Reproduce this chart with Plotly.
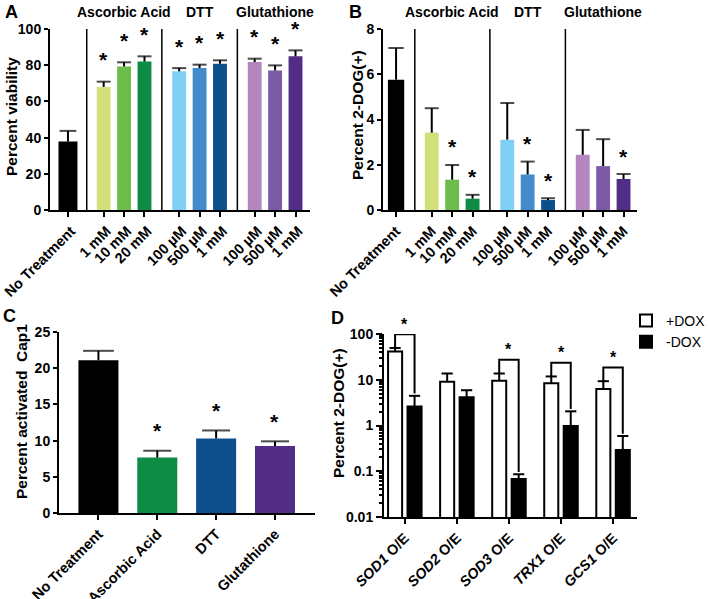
import math
import plotly.graph_objects as go

W, H = 709, 599
FONT = "Liberation Sans, Arial, Helvetica, sans-serif"

# ---------------- data ----------------
groups = ["Ascorbic Acid", "DTT", "Glutathione"]
ab_labels = ["No Treatment", "1 mM", "10 mM", "20 mM", "100 µM", "500 µM", "1 mM",
             "100 µM", "500 µM", "1 mM"]
a_values = [37.8, 68.0, 79.3, 82.0, 76.6, 78.4, 80.8, 81.7, 77.1, 84.9]
a_errors = [5.9, 2.9, 2.3, 2.9, 1.8, 1.9, 1.9, 1.9, 2.8, 3.3]
a_sig = [False, True, True, True, True, True, True, True, True, True]

b_values = [5.76, 3.42, 1.34, 0.50, 3.11, 1.57, 0.44, 2.44, 1.94, 1.37]
b_errors = [1.40, 1.08, 0.65, 0.17, 1.62, 0.57, 0.08, 1.10, 1.19, 0.22]
b_sig = [False, False, True, True, False, True, True, False, False, True]

ab_colors = ["#000000", "#d3df7b", "#6cbd4b", "#0e8b45", "#7fd0f4", "#438bcb",
             "#0d4e8c", "#b587c1", "#7b5ba7", "#512d86"]

c_labels = ["No Treatment", "Ascorbic Acid", "DTT", "Glutathione"]
c_values = [21.1, 7.65, 10.3, 9.25]
c_errors = [1.3, 0.95, 1.1, 0.65]
c_sig = [False, True, True, True]
c_colors = ["#000000", "#0e8b45", "#0d4e8c", "#512d86"]

d_genes = ["SOD1", "SOD2", "SOD3", "TRX1", "GCS1"]
d_plus = [41.7, 9.0, 9.5, 8.4, 6.3]
d_plus_err = [7.8, 4.7, 4.2, 3.4, 3.0]
d_minus = [2.6, 4.15, 0.068, 0.975, 0.29]
d_minus_err = [1.85, 1.75, 0.018, 1.065, 0.30]
d_sig = [True, False, True, True, True]
d_series = ["+DOX", "-DOX"]

# ---------------- helpers ----------------
def fx(px):
    return px / W

def fy(py):
    return 1 - py / H

fig = go.Figure()

def add_err(x, y, e, capw, xa, ya, thick=2):
    lx, ly = [], []
    for xi, yi, ei in zip(x, y, e):
        lx += [xi, xi, None]
        ly += [yi, yi + ei, None]
    fig.add_trace(go.Scatter(x=lx, y=ly, mode="lines", xaxis=xa, yaxis=ya,
                             line=dict(color="black", width=thick),
                             showlegend=False, hoverinfo="skip", cliponaxis=False))
    fig.add_trace(go.Scatter(x=list(x), y=[yi + ei for yi, ei in zip(y, e)], mode="markers",
                             xaxis=xa, yaxis=ya,
                             marker=dict(symbol="line-ew", size=capw, color="black",
                                         line=dict(width=thick, color="black")),
                             showlegend=False, hoverinfo="skip", cliponaxis=False))

# positions for panels A/B: No Treatment, then three groups of three
ab_pos = [0.0] + [1.75 + g * 3.7 + k for g in range(3) for k in range(3)]
ab_group_centers = [1.75 + g * 3.7 + 1 for g in range(3)]
separators = [0.92, 4.6, 8.3]

# ---------------- Panel A ----------------
a_w = [0.93] + [0.68] * 9
fig.add_trace(go.Bar(x=ab_pos, y=a_values, width=a_w, marker=dict(color=ab_colors, line=dict(width=0)),
                     xaxis="x", yaxis="y", showlegend=False))
add_err(ab_pos, a_values, a_errors, [12] + [10] * 9, "x", "y")

# ---------------- Panel B ----------------
b_w = [0.8] + [0.68] * 9
fig.add_trace(go.Bar(x=ab_pos, y=b_values, width=b_w, marker=dict(color=ab_colors, line=dict(width=0)),
                     xaxis="x2", yaxis="y2", showlegend=False))
add_err(ab_pos, b_values, b_errors, [11] + [10] * 9, "x2", "y2")

# ---------------- Panel C ----------------
fig.add_trace(go.Bar(x=c_labels, y=c_values, width=0.68, marker=dict(color=c_colors, line=dict(width=0)),
                     xaxis="x3", yaxis="y3", showlegend=False))
add_err(c_labels, c_values, c_errors, [22, 20, 20, 20], "x3", "y3")

# ---------------- Panel D ----------------
off = 0.187
d_x_plus = [i - off for i in range(len(d_genes))]
d_x_minus = [i + off for i in range(len(d_genes))]
fig.add_trace(go.Bar(x=d_x_plus, y=d_plus, width=0.27, name=d_series[0],
                     marker=dict(color="white", line=dict(color="black", width=2)),
                     xaxis="x4", yaxis="y4"))
fig.add_trace(go.Bar(x=d_x_minus, y=d_minus, width=0.27, name=d_series[1],
                     marker=dict(color="black", line=dict(color="black", width=2)),
                     xaxis="x4", yaxis="y4"))
add_err(d_x_plus, d_plus, d_plus_err, 8, "x4", "y4")
add_err(d_x_minus, d_minus, d_minus_err, 8, "x4", "y4")

annotations = []
# brackets + stars for D
for i, s in enumerate(d_sig):
    if not s:
        continue
    ptop = d_plus[i] + d_plus_err[i]
    mtop = d_minus[i] + d_minus_err[i]
    btop = ptop * 2.0
    fig.add_trace(go.Scatter(x=[d_x_plus[i], d_x_plus[i], d_x_minus[i], d_x_minus[i]],
                             y=[ptop, btop, btop, mtop * 1.12], mode="lines",
                             line=dict(color="black", width=2), xaxis="x4", yaxis="y4",
                             showlegend=False, hoverinfo="skip", cliponaxis=False))
    annotations.append(dict(x=i, y=math.log10(btop), xref="x4", yref="y4", text="*",
                            showarrow=False, yanchor="middle", yshift=10,
                            font=dict(size=16, family=FONT, color="black", weight="bold")))

# stars for A/B/C
for pos, v, e, s in zip(ab_pos, a_values, a_errors, a_sig):
    if s:
        annotations.append(dict(x=pos, y=v + e, xref="x", yref="y", text="*", showarrow=False,
                                yanchor="middle", yshift=22,
                                font=dict(size=21, family=FONT, color="black", weight="bold")))
for pos, v, e, s in zip(ab_pos, b_values, b_errors, b_sig):
    if s:
        annotations.append(dict(x=pos, y=v + e, xref="x2", yref="y2", text="*", showarrow=False,
                                yanchor="middle", yshift=18,
                                font=dict(size=21, family=FONT, color="black", weight="bold")))
for lab, v, e, s in zip(c_labels, c_values, c_errors, c_sig):
    if s:
        annotations.append(dict(x=lab, y=v + e, xref="x3", yref="y3", text="*", showarrow=False,
                                yanchor="middle", yshift=20,
                                font=dict(size=21, family=FONT, color="black", weight="bold")))

# group labels
for xa in ("x", "x2"):
    for gc, gname in zip(ab_group_centers, groups):
        annotations.append(dict(x=gc, y=fy(12), xref=xa, yref="paper", text=gname, showarrow=False,
                                yanchor="middle",
                                font=dict(size=14, family=FONT, color="black", weight="bold")))

# panel letters
for letter, px, py in (("A", 11, 12), ("B", 355, 12), ("C", 9, 316), ("D", 337, 318)):
    annotations.append(dict(x=fx(px), y=fy(py), xref="paper", yref="paper", text=letter,
                            showarrow=False, xanchor="center", yanchor="middle",
                            font=dict(size=18, family=FONT, color="black", weight="bold")))

# y titles
for txt, px, py in (("Percent viability", 11, 117), ("Percent 2-DOG(+)", 357, 115),
                    ("Percent activated  Cap1", 21, 412), ("Percent 2-DOG(+)", 338, 413)):
    annotations.append(dict(x=fx(px), y=fy(py), xref="paper", yref="paper", text=txt,
                            showarrow=False, xanchor="center", yanchor="middle", textangle=-90,
                            font=dict(size=15.5, family=FONT, color="black", weight="bold")))

# separators in A/B
shapes = []
for s in separators:
    shapes.append(dict(type="line", xref="x", yref="y", x0=s, x1=s, y0=0, y1=100,
                       line=dict(color="black", width=1.5)))
    shapes.append(dict(type="line", xref="x2", yref="y2", x0=s, x1=s, y0=0, y1=8,
                       line=dict(color="black", width=1.5)))

ytickfont = dict(size=14, family=FONT, color="black", weight="bold")
xtickfont = dict(size=14.5, family=FONT, color="black", weight="bold")
base = dict(showline=True, linewidth=2, linecolor="black", ticks="outside", tickwidth=2,
            ticklen=5, tickcolor="black", showgrid=False, zeroline=False, automargin=False)
xbase = dict(base, ticklabeloverflow="allow", tickfont=xtickfont, tickangle=-45)

fig.update_layout(
    width=W, height=H, margin=dict(l=0, r=0, t=0, b=0, autoexpand=False),
    plot_bgcolor="white", paper_bgcolor="white",
    font=dict(family=FONT, color="black"),
    barmode="overlay",
    showlegend=True,
    legend=dict(x=fx(626), y=fy(305), xanchor="left", yanchor="top",
                font=dict(size=14, family=FONT, color="black"), bgcolor="rgba(0,0,0,0)",
                tracegroupgap=0),
    annotations=annotations, shapes=shapes,
    xaxis=dict(xbase, domain=[fx(50), fx(310)], range=[-0.88, 11.86], anchor="y",
               tickmode="array", tickvals=ab_pos, ticktext=ab_labels, ticklabelshift=3),
    yaxis=dict(base, domain=[fy(210), fy(29)], range=[0, 100], anchor="x", dtick=20, ticklen=4,
               tickfont=ytickfont),
    xaxis2=dict(xbase, domain=[fx(383), fx(637)], range=[-0.64, 11.81], anchor="y2",
                tickmode="array", tickvals=ab_pos, ticktext=ab_labels),
    yaxis2=dict(base, domain=[fy(210), fy(29)], range=[0, 8], anchor="x2", dtick=2, ticklen=4,
                tickfont=ytickfont),
    xaxis3=dict(xbase, domain=[fx(59), fx(315)], range=[-0.67, 3.68], anchor="y3",
                type="category"),
    yaxis3=dict(base, domain=[fy(513), fy(332)], range=[0, 25], anchor="x3", dtick=5, ticklen=4,
                tickfont=ytickfont),
    xaxis4=dict(xbase, domain=[fx(384), fx(637)], range=[-0.4, 4.46], anchor="y4",
                tickmode="array", tickvals=list(range(len(d_genes))),
                ticktext=[f"<i>{g}</i> O/E" for g in d_genes]),
    yaxis4=dict(base, domain=[fy(517), fy(334)], type="log", range=[-2, 2], anchor="x4",
                tickmode="array", tickvals=[0.01, 0.1, 1, 10, 100],
                ticktext=["0.01", "0.1", "1", "10", "100"], ticklen=6, tickfont=ytickfont,
                minor=dict(ticks="outside", ticklen=3, tickwidth=1.5, tickcolor="black",
                           dtick="D1", showgrid=False)),
)

fig.write_html("out.html", config={"displayModeBar": False},
               post_script="document.body.style.margin='0px';document.body.style.overflow='hidden';")
